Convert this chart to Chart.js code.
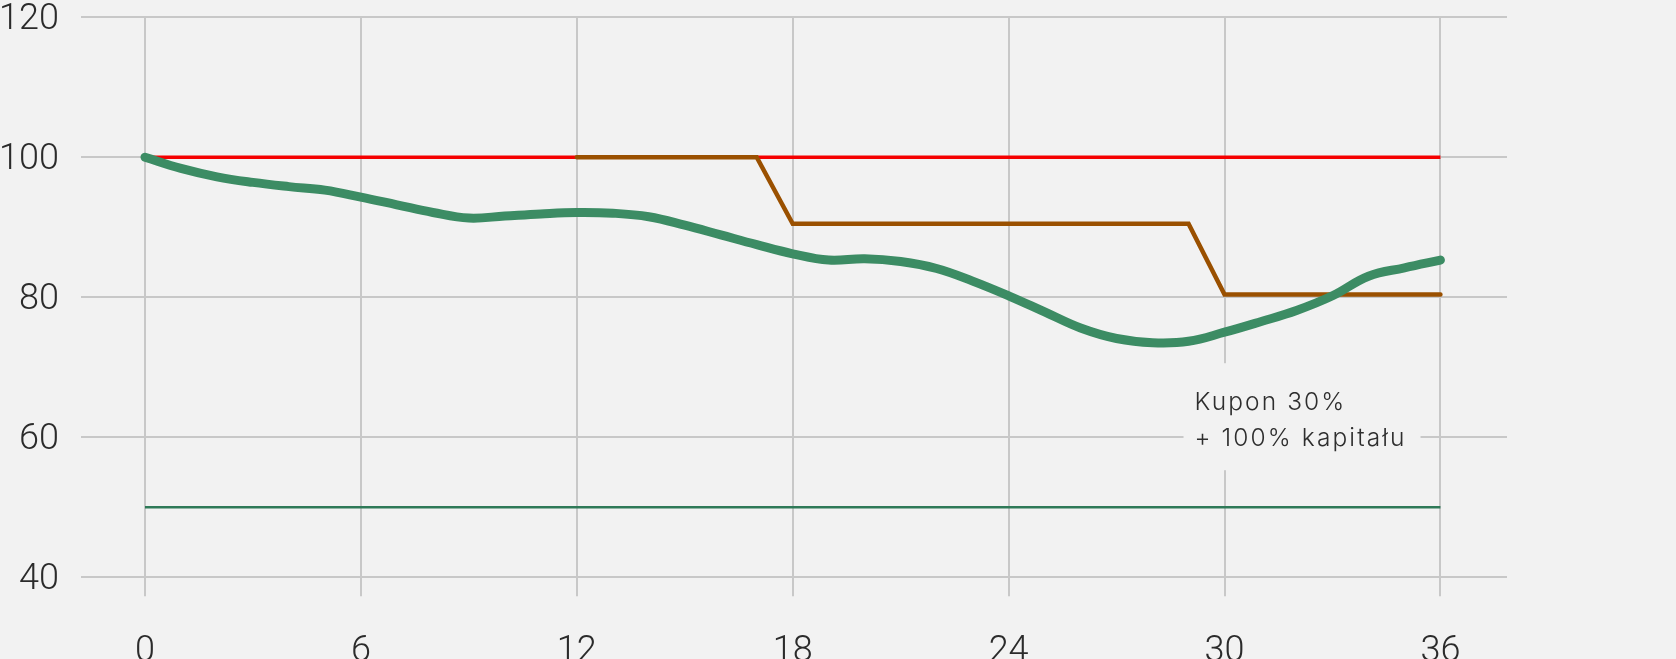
<!DOCTYPE html>
<html>
<head>
<meta charset="utf-8">
<script src="https://cdn.jsdelivr.net/npm/chart.js@4/dist/chart.umd.min.js"></script>
<style>
  html, body { margin: 0; padding: 0; background: #f2f2f2; overflow: hidden; }
  #wrap { width: 1676px; height: 659px; overflow: hidden; }
  #chart { display: block; }
</style>
</head>
<body>
<div id="wrap"><canvas id="chart" width="1676" height="760"></canvas></div>
<script>
// months on the x axis
var months = [0, 1, 2, 3, 4, 5, 6, 7, 8, 9, 10, 11, 12, 13, 14, 15, 16, 17, 18,
              19, 20, 21, 22, 23, 24, 25, 26, 27, 28, 29, 30, 31, 32, 33, 34, 35, 36];
// underlying index (green curve)
var indexValues = [100, 98.4, 97.2, 96.4, 95.8, 95.3, 94.3, 93.2, 92.1, 91.3, 91.6, 91.9, 92.1,
                   92.0, 91.5, 90.3, 88.9, 87.5, 86.2, 85.3, 85.5, 85.1, 84.1, 82.3, 80.2,
                   77.9, 75.6, 74.1, 73.5, 73.7, 75.0, 76.5, 78.1, 80.2, 83.0, 84.2, 85.3];
// red level
var levelMonths = [0, 36];
var levelValues = [100, 100];
// brown step-down barrier
var barrierMonths = [12, 17, 18, 29, 30, 36];
var barrierValues = [100, 100, 90.5, 90.5, 80.4, 80.4];
// dark green protection level
var protectMonths = [0, 36];
var protectValues = [50, 50];

var xTicks = [0, 6, 12, 18, 24, 30, 36];
var yTicks = [40, 60, 80, 100, 120];
var noteLines = ['Kupon 30%', '+ 100% kapitału'];

// where the plot area should sit in the window
var plotTop = 16.7;
var plotBottom = 576.7;
var canvasHeight = 760;
var xAxisHeight = 123.3;

function toPoints(xs, ys) {
    return xs.map(function(x, i) { return { x: x, y: ys[i] }; });
}

var tickFont = { family: 'Roboto', size: 36, weight: 300, lineHeight: 0.9 };
var gridStyle = { color: '#c8c8c8', lineWidth: 2, tickLength: 19, drawTicks: true };

var notePlugin = {
    id: 'note',
    beforeDatasetsDraw: function(chart) {
        var ctx = chart.ctx;
        var xs = chart.scales.x, ys = chart.scales.y;
        var px = xs.getPixelForValue(30);
        var py = ys.getPixelForValue(60);
        ctx.save();
        ctx.fillStyle = '#f2f2f2';
        ctx.fillRect(px - 41, py - 74, 237, 107);
        ctx.fillStyle = '#2e2e2e';
        ctx.font = '300 24.5px Inter';
        ctx.letterSpacing = '2.1px';
        ctx.textBaseline = 'alphabetic';
        ctx.textAlign = 'left';
        ctx.fillText(noteLines[0], px - 30, py - 27);
        ctx.fillText(noteLines[1], px - 30, py + 8.5);
        ctx.restore();
    }
};

var canvas = document.getElementById('chart');
var chart = new Chart(canvas.getContext('2d'), {
    type: 'line',
    data: {
        datasets: [
            {
                label: 'index',
                data: toPoints(months, indexValues),
                borderColor: '#3c8c64',
                borderWidth: 9,
                tension: 0.4,
                pointRadius: 0,
                borderCapStyle: 'round',
                borderJoinStyle: 'round'
            },
            {
                label: 'barrier',
                data: toPoints(barrierMonths, barrierValues),
                borderColor: '#9a5000',
                borderWidth: 4.5,
                tension: 0,
                pointRadius: 0,
                borderCapStyle: 'round'
            },
            {
                label: 'level',
                data: toPoints(levelMonths, levelValues),
                borderColor: '#f50000',
                borderWidth: 3.6,
                tension: 0,
                pointRadius: 0
            },
            {
                label: 'protection',
                data: toPoints(protectMonths, protectValues),
                borderColor: '#2f7a58',
                borderWidth: 2.5,
                tension: 0,
                pointRadius: 0
            }
        ]
    },
    options: {
        responsive: false,
        animation: false,
        devicePixelRatio: 1,
        layout: { padding: { top: 0, right: 169, left: 0, bottom: 0 } },
        plugins: {
            legend: { display: false },
            tooltip: { enabled: false }
        },
        scales: {
            x: {
                type: 'linear',
                min: -1.25,
                max: 37.85,
                afterBuildTicks: function(s) { s.ticks = xTicks.map(function(v) { return { value: v }; }); },
                afterFit: function(s) { s.height = xAxisHeight; },
                grid: gridStyle,
                border: { display: false },
                ticks: { font: tickFont, color: '#2b2b2b', padding: 40, maxRotation: 0, autoSkip: false }
            },
            y: {
                min: 40,
                max: 120,
                afterBuildTicks: function(s) { s.ticks = yTicks.map(function(v) { return { value: v }; }); },
                afterFit: function(s) { s.width = 100; },
                grid: gridStyle,
                border: { display: false },
                ticks: { font: tickFont, color: '#2b2b2b', padding: 22, labelOffset: 2.5 }
            }
        }
    },
    plugins: [notePlugin]
});

// the y labels push the plot down; slide the canvas up so the plot top lands where it should
var shift = chart.chartArea.top - plotTop;
canvas.style.marginTop = (-shift) + 'px';
xAxisHeight = canvasHeight - (plotBottom + shift);
chart.update();
</script>
</body>
</html>
